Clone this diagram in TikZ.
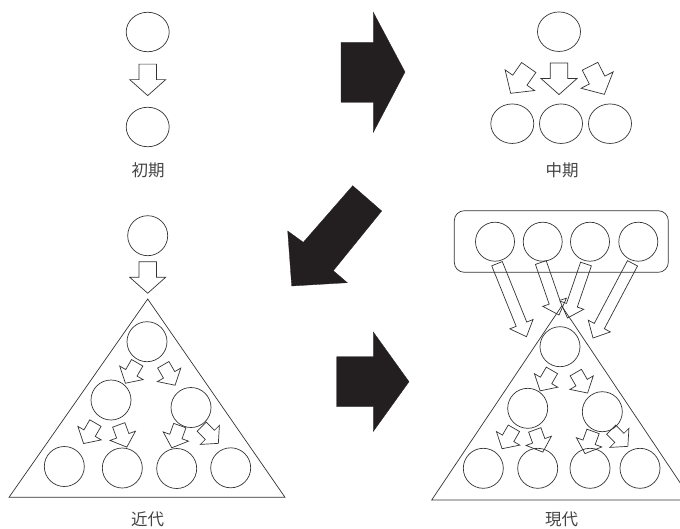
\documentclass[tikz,border=0pt]{standalone}
\usepackage{fontspec}
\newfontfamily\jpfont{Noto Sans CJK JP}
\usetikzlibrary{shapes.geometric,calc}
\definecolor{ln}{HTML}{333333}
\definecolor{blk}{HTML}{231F20}
\definecolor{txt}{HTML}{444444}
\tikzset{
  oval/.style={ellipse, draw=ln, line width=0.7pt, minimum width=43pt, minimum height=39.5pt, inner sep=0pt},
  ball/.style={circle, draw=ln, line width=0.7pt, minimum size=40pt, inner sep=0pt},
  lbl/.style={font=\jpfont\fontsize{16.5}{20}\selectfont, text=txt, inner sep=0pt},
  hollow/.style={draw=ln, line width=0.7pt, line join=miter},
  solidarrow/.style={fill=blk, draw=blk, line width=0.3pt, line join=miter},
  harrow/.pic={\draw[hollow] (0,15.75) -- (18,-0.25) -- (8.7,-0.25) -- (8.7,-15.75) -- (-8.7,-15.75) -- (-8.7,-0.25) -- (-18,-0.25) -- cycle;}
}
\newcommand\longarrow[2]{%
  \coordinate (la-h) at ($(#2)!13.5pt!(#1)$);
  \draw[hollow] ($(#1)!5.7pt!90:(#2)$) -- ($(la-h)!5.7pt!90:(#2)$) -- ($(la-h)!12.5pt!90:(#2)$) -- (#2) -- ($(la-h)!12.5pt!-90:(#2)$) -- ($(la-h)!5.7pt!-90:(#2)$) -- ($(#1)!5.7pt!-90:(#2)$) -- cycle;
}
\begin{document}
\begin{tikzpicture}[x=1pt,y=-1pt]
\useasboundingbox (0,0) rectangle (680,528);

% ---- initial period
\node[oval] (i1) at (147.7,32) {};
\pic at (147.7,79.85) {harrow};
\node[oval] (i2) at (147.7,127) {};
\node[lbl] (l1) at (148,170.7) {初期};

% ---- middle period
\node[oval] (m0) at (559,31.7) {};
\pic[rotate=-35] at (519.7,80.4) {harrow};
\pic at (559,78.8) {harrow};
\pic[rotate=27] at (597.2,80.3) {harrow};
\node[oval] (m1) at (512.3,123.7) {};
\node[oval] (m2) at (561,123.7) {};
\node[oval] (m3) at (610,123.7) {};
\node[lbl] (l2) at (562,170.7) {中期};

% ---- big black arrows
\fill[solidarrow] (341,42.3) -- (373.3,42.3) -- (373.3,12.3) -- (405,72) -- (373.3,132.3) -- (373.3,102.3) -- (341,102.3) -- cycle;
\fill[solidarrow] (352.7,185.7) -- (381.7,211) -- (333.3,270.7) -- (347.3,282.7) -- (291.7,286) -- (287.7,231) -- (303.3,242.3) -- cycle;
\fill[solidarrow] (336.7,356.7) -- (373.3,356.7) -- (373.3,332) -- (409,381.7) -- (373.3,431.4) -- (373.3,406.7) -- (336.7,406.7) -- cycle;

% ---- early modern (left triangle)
\node[ball] (k0) at (147.7,235.7) {};
\pic at (147.7,277.5) {harrow};
\draw[hollow] (147.7,299) coordinate (kA) -- (285,497.3) -- (9,497.3) -- cycle;
\node[ball] (k1) at (147,341.7) {};
\node[ball] (k2) at (111,400) {};
\node[ball] (k3) at (191,407.5) {};
\node[ball] (k4) at (64.3,466.5) {};
\node[ball] (k5) at (122.3,468) {};
\node[ball] (k6) at (176.7,468.5) {};
\node[ball] (k7) at (230.7,467.8) {};
\pic[rotate=-30,scale=0.75] at (131.3,373) {harrow};
\pic[rotate=30,scale=0.75] at (169.2,375) {harrow};
\pic[rotate=-30,scale=0.75] at (89.5,433.3) {harrow};
\pic[rotate=20,scale=0.75] at (122.8,436) {harrow};
\pic[rotate=-20,scale=0.75] at (175.8,436.7) {harrow};
\pic[rotate=45,scale=0.75] at (210,435) {harrow};
\node[lbl] (l3) at (147.7,519.3) {近代};

% ---- modern (right triangle)
\node[draw=ln, line width=0.7pt, rounded corners=10pt, minimum width=214pt, minimum height=61.6pt] (grp) at (561.3,241.5) {};
\node[ball, minimum size=39pt] (g1) at (495,241.7) {};
\node[ball, minimum size=39pt] (g2) at (542.7,241.7) {};
\node[ball, minimum size=39pt] (g3) at (590,241.7) {};
\node[ball, minimum size=39pt] (g4) at (638.3,241.7) {};
\coordinate (b1) at (497,263.7);   \coordinate (t1) at (526.5,336.7);
\coordinate (b2) at (540.8,262.5); \coordinate (t2) at (559,315);
\coordinate (b3) at (586,264);     \coordinate (t3) at (567.5,318);
\coordinate (b4) at (632.5,263.3); \coordinate (t4) at (593,338);
\longarrow{b1}{t1}
\longarrow{b2}{t2}
\longarrow{b3}{t3}
\longarrow{b4}{t4}
\draw[hollow] (561.7,306) coordinate (gA) -- (691.7,500) -- (431.7,500) -- cycle;
\node[ball] (n1) at (560,346.7) {};
\node[ball] (n2) at (527.7,408.3) {};
\node[ball] (n3) at (602.3,411.7) {};
\node[ball] (n4) at (483.3,468.3) {};
\node[ball] (n5) at (537.7,468.3) {};
\node[ball] (n6) at (590,468.3) {};
\node[ball] (n7) at (640,468.3) {};
\pic[rotate=-30,scale=0.75] at (546,380.6) {harrow};
\pic[rotate=30,scale=0.75] at (581.7,382.8) {harrow};
\pic[rotate=-30,scale=0.75] at (508,438.5) {harrow};
\pic[rotate=20,scale=0.75] at (538.8,441) {harrow};
\pic[rotate=-20,scale=0.75] at (589,442.5) {harrow};
\pic[rotate=45,scale=0.75] at (619.5,438) {harrow};
\node[lbl] (l4) at (561.7,519.3) {現代};
\end{tikzpicture}
\end{document}
